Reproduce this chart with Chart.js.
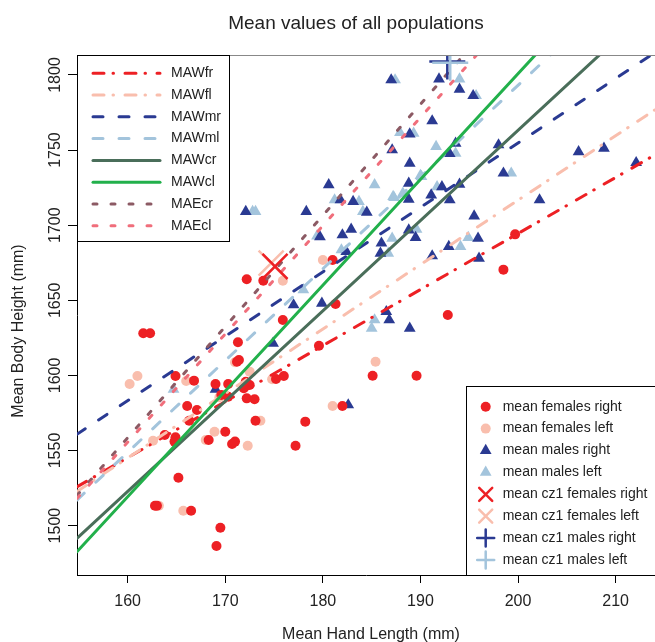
<!DOCTYPE html>
<html>
<head>
<meta charset="utf-8">
<script src="https://cdn.jsdelivr.net/npm/chart.js@4.4.1/dist/chart.umd.min.js"></script>
<style>
  html, body { margin: 0; padding: 0; background: #fff; }
  #chart { display: block; }
</style>
</head>
<body>
<canvas id="chart" width="655" height="642"></canvas>
<script>
// tick labels
const xTicks = [160, 170, 180, 190, 200, 210];
const yTicks = [1500, 1550, 1600, 1650, 1700, 1750, 1800];

// population means [hand length, body height]
const femalesRight = [
    [161.6, 1628], [162.3, 1628], [175.9, 1636.9], [171.3, 1622.0], [171.2, 1609.1], [171.4, 1610.2],
    [164.9, 1599.6], [166.8, 1596.5], [169.0, 1594.3], [170.3, 1594.3], [172.1, 1595.8], [172.5, 1593.6],
    [171.9, 1591.4], [169.6, 1587.0], [170.3, 1585.8], [172.2, 1584.7], [173.0, 1584.1], [175.2, 1597.6],
    [176.0, 1599.6], [166.1, 1579.6], [167.1, 1577.0], [166.3, 1569.8], [163.8, 1560.3], [164.9, 1558.8],
    [164.8, 1555.9], [168.3, 1557.0], [170.0, 1562.5], [170.7, 1554.3], [171.0, 1555.9], [173.1, 1569.8],
    [177.2, 1553.2], [165.2, 1531.9], [162.8, 1513.2], [163.0, 1513.2], [166.5, 1509.9], [169.5, 1498.6],
    [169.1, 1486.4], [178.2, 1569.2], [179.6, 1619.7], [181.3, 1647.5], [192.8, 1640.2], [185.1, 1599.8],
    [189.6, 1599.8], [182.0, 1579.6], [172.2, 1664.0], [173.9, 1663.0], [181.0, 1676.8], [199.7, 1693.9],
    [198.5, 1670.4]
];
const femalesLeft = [
    [161.0, 1599.6], [160.2, 1594.3], [166.0, 1596.3], [172.5, 1602.5], [171.0, 1608.7], [168.9, 1562.5],
    [168.0, 1557.0], [172.3, 1553.2], [162.6, 1556.5], [173.6, 1569.8], [165.7, 1509.9], [163.2, 1513.2],
    [169.4, 1585.4], [174.8, 1597.4], [181.0, 1579.6], [185.4, 1609.1], [180.0, 1676.8], [175.9, 1663.0]
];
const malesRight = [
    [172.1, 1709.0], [178.3, 1709.0], [180.6, 1726.8], [181.8, 1716.8], [183.1, 1715.7], [184.5, 1708.6],
    [179.7, 1692.3], [182.0, 1693.5], [182.9, 1697.3], [186.0, 1688.0], [185.9, 1681.3], [188.9, 1741.2],
    [188.8, 1727.9], [188.8, 1717.2], [191.1, 1720.1], [188.8, 1696.8], [189.5, 1691.7], [191.2, 1679.5],
    [182.4, 1682.4], [177.0, 1646.9], [179.9, 1648.0], [187.1, 1750.1], [187.0, 1796.7], [191.9, 1797.3],
    [194.0, 1790.5], [195.4, 1786.2], [191.2, 1769.4], [188.9, 1760.7], [193.6, 1754.5], [193.0, 1747.6],
    [198.0, 1753.4], [206.2, 1748.9], [208.8, 1751.2], [212.1, 1741.6], [198.5, 1734.6], [192.2, 1725.6],
    [194.0, 1727.2], [193.0, 1716.8], [202.2, 1716.8], [195.5, 1706.1], [195.9, 1691.3], [192.9, 1685.7],
    [196.0, 1677.9], [186.5, 1642.4], [186.8, 1636.9], [188.9, 1631.3], [182.6, 1580.3], [174.9, 1621.4],
    [169.0, 1590.7]
];
const malesLeft = [
    [172.8, 1709.0], [173.1, 1709.0], [185.3, 1726.8], [183.7, 1715.7], [181.2, 1716.8], [184.1, 1709.0],
    [179.4, 1692.8], [187.1, 1691.3], [186.7, 1681.3], [189.6, 1697.3], [187.2, 1719.0], [190.1, 1732.3],
    [191.7, 1725.6], [178.0, 1656.9], [181.9, 1683.5], [187.4, 1796.7], [194.0, 1797.3], [195.7, 1786.2],
    [189.3, 1761.2], [187.9, 1761.6], [191.6, 1752.3], [193.6, 1747.9], [199.3, 1734.6], [190.0, 1733.0],
    [187.3, 1718.3], [188.2, 1721.2], [194.1, 1685.7], [194.9, 1691.7], [185.3, 1636.9], [185.0, 1631.3],
    [164.7, 1590.7]
];
const cz1FemalesRight = [[175.1, 1672.5]];
const cz1FemalesLeft = [[174.7, 1674.8]];
const cz1MalesRight = [[192.75, 1808.9]];
const cz1MalesLeft = [[193.05, 1808.2]];

// regression lines, two end points each
const lineMAWfr = [[154.8, 1525.8], [214, 1746.7]];
const lineMAWfl = [[154.8, 1522.7], [214, 1776.7]];
const lineMAWmr = [[154.8, 1560.8], [214, 1814.8]];
const lineMAWml = [[154.8, 1517.0], [205, 1823.7]];
const lineMAWcr = [[154.8, 1491.5], [210, 1823.3]];
const lineMAWcl = [[154.8, 1482.6], [203, 1822.0]];
const lineMAEcr = [[154.8, 1520.0], [195, 1817.5]];
const lineMAEcl = [[154.8, 1518.0], [196, 1815.0]];

const RED = "#ED2024", PINK = "#F9BEAD", DBLUE = "#2A3A92", LBLUE = "#A3C4DC";
const DGREEN = "#4A6E5A", GREEN = "#22B04B", BROWN = "#8C5A64", ROSE = "#F06E7B";
const DOTDASH = [11, 9, 0.5, 11.5], DASH = [10, 16], DOT = [4, 14];

const toXY = arr => arr.map(p => ({ x: p[0], y: p[1] }));

function lineSet(label, pts, color, dash, order) {
    return {
        label, data: toXY(pts), showLine: true, pointRadius: 0, pointHoverRadius: 0,
        borderColor: color, borderWidth: 3, borderDash: dash, borderCapStyle: "round",
        fill: false, order
    };
}
function pointSet(label, pts, color, style, radius, order, width = 0) {
    return {
        label, data: toXY(pts), showLine: false, pointStyle: style, pointRadius: radius,
        pointHoverRadius: radius, backgroundColor: color, borderColor: color,
        pointBorderWidth: width, borderWidth: width, order
    };
}

const lineSets = [
    lineSet("MAWfr", lineMAWfr, RED, DOTDASH, 17),
    lineSet("MAWfl", lineMAWfl, PINK, DOTDASH, 16),
    lineSet("MAWmr", lineMAWmr, DBLUE, DASH, 15),
    lineSet("MAWml", lineMAWml, LBLUE, DASH, 14),
    lineSet("MAWcr", lineMAWcr, DGREEN, [], 13),
    lineSet("MAWcl", lineMAWcl, GREEN, [], 12),
    lineSet("MAEcr", lineMAEcr, BROWN, DOT, 11),
    lineSet("MAEcl", lineMAEcl, ROSE, DOT, 10)
];
const pointSets = [
    pointSet("mean females right", femalesRight, RED, "circle", 5, 20),
    pointSet("mean females left", femalesLeft, PINK, "circle", 5, 21),
    pointSet("mean males right", malesRight, DBLUE, "triangle", 6.8, 22),
    pointSet("mean males left", malesLeft, LBLUE, "triangle", 6.8, 23),
    pointSet("mean cz1 females right", cz1FemalesRight, RED, "crossRot", 17.7, 2, 2.5),
    pointSet("mean cz1 females left", cz1FemalesLeft, PINK, "crossRot", 17.7, 3, 2.5),
    pointSet("mean cz1 males right", cz1MalesRight, DBLUE, "cross", 18, 1, 2.5),
    pointSet("mean cz1 males left", cz1MalesLeft, LBLUE, "cross", 18, 0, 2.5)
];

const FONT = "'Liberation Sans', Arial, sans-serif";
const TEXT = "#222";

// title, axis titles, y tick labels and both legends (R style)
const decorations = {
    id: "decorations",
    afterDatasetsDraw(chart) {
        const ctx = chart.ctx;
        const area = chart.chartArea;
        const yScale = chart.scales.y;
        ctx.save();

        // top frame line
        ctx.strokeStyle = "#888";
        ctx.lineWidth = 1;
        ctx.beginPath();
        ctx.moveTo(area.left, area.top + 0.5);
        ctx.lineTo(area.right, area.top + 0.5);
        ctx.stroke();

        ctx.fillStyle = TEXT;
        ctx.font = "19px " + FONT;
        ctx.textAlign = "center";
        ctx.textBaseline = "alphabetic";
        ctx.fillText("Mean values of all populations", 356, 29);

        ctx.font = "16px " + FONT;
        ctx.fillText("Mean Hand Length (mm)", 371, 638.5);

        ctx.save();
        ctx.translate(23.3, 331);
        ctx.rotate(-Math.PI / 2);
        ctx.fillText("Mean Body Height (mm)", 0, 0);
        ctx.restore();

        yTicks.forEach(v => {
            ctx.save();
            ctx.translate(59.5, yScale.getPixelForValue(v));
            ctx.rotate(-Math.PI / 2);
            ctx.fillText(String(v), 0, 0);
            ctx.restore();
        });

        // line legend, top left
        ctx.fillStyle = "#fff";
        ctx.fillRect(area.left, area.top, 152.5, 186.5);
        ctx.strokeStyle = "#000";
        ctx.strokeRect(area.left + 0.5, area.top + 0.5, 152, 186);
        lineSets.forEach((ds, i) => {
            const y = 73.3 + i * 21.77;
            ctx.strokeStyle = ds.borderColor;
            ctx.lineWidth = 3;
            ctx.lineCap = "round";
            ctx.setLineDash(ds.borderDash);
            ctx.beginPath();
            ctx.moveTo(93, y);
            ctx.lineTo(160, y);
            ctx.stroke();
            ctx.setLineDash([]);
            ctx.fillStyle = TEXT;
            ctx.font = "14px " + FONT;
            ctx.textAlign = "left";
            ctx.textBaseline = "middle";
            ctx.fillText(ds.label, 171, y);
        });

        // point legend, bottom right
        ctx.fillStyle = "#fff";
        ctx.fillRect(466, 386, 200, area.bottom - 386);
        ctx.strokeStyle = "#000";
        ctx.lineWidth = 1;
        ctx.strokeRect(466.5, 386.5, 200, area.bottom - 386);
        const legendRadius = { circle: 5, triangle: 6.8, crossRot: 9.2, cross: 8.5 };
        pointSets.forEach((ds, i) => {
            const y = 406.7 + i * 21.9;
            ctx.fillStyle = ds.backgroundColor;
            ctx.strokeStyle = ds.borderColor;
            ctx.lineWidth = ds.borderWidth || 0;
            Chart.helpers.drawPoint(ctx, {
                pointStyle: ds.pointStyle, radius: legendRadius[ds.pointStyle],
                rotation: 0, borderWidth: ds.borderWidth
            }, 485.7, y);
            ctx.fillStyle = TEXT;
            ctx.font = "14px " + FONT;
            ctx.textAlign = "left";
            ctx.textBaseline = "middle";
            ctx.fillText(ds.label, 502.7, y);
        });
        ctx.restore();
    }
};

Chart.defaults.font.family = FONT;

new Chart(document.getElementById("chart"), {
    type: "scatter",
    data: { datasets: [...pointSets, ...lineSets] },
    options: {
        responsive: false,
        animation: false,
        devicePixelRatio: 1,
        layout: { autoPadding: false, padding: { top: 55, left: 0, right: 0, bottom: 0 } },
        plugins: { legend: { display: false }, tooltip: { enabled: false } },
        scales: {
            x: {
                type: "linear", position: "bottom", min: 154.81, max: 214.03,
                grid: { display: true, drawOnChartArea: false, drawTicks: true, tickLength: 8, color: "#000", tickColor: "#000" },
                border: { display: true, color: "#000", width: 1 },
                ticks: { color: TEXT, font: { size: 16 }, padding: 9, autoSkip: false, maxRotation: 0 },
                afterBuildTicks: s => { s.ticks = xTicks.map(v => ({ value: v })); },
                afterFit: s => { s.height = 67; s.paddingLeft = 0; s.paddingRight = 0; }
            },
            y: {
                type: "linear", position: "left", min: 1467.1, max: 1813.3,
                grid: { display: true, drawOnChartArea: false, drawTicks: true, tickLength: 9, color: "#000", tickColor: "#000" },
                border: { display: true, color: "#000", width: 1 },
                ticks: { display: false },
                afterBuildTicks: s => { s.ticks = yTicks.map(v => ({ value: v })); },
                afterFit: s => { s.width = 77; s.paddingTop = 0; s.paddingBottom = 0; }
            }
        }
    },
    plugins: [decorations]
});
</script>
</body>
</html>
